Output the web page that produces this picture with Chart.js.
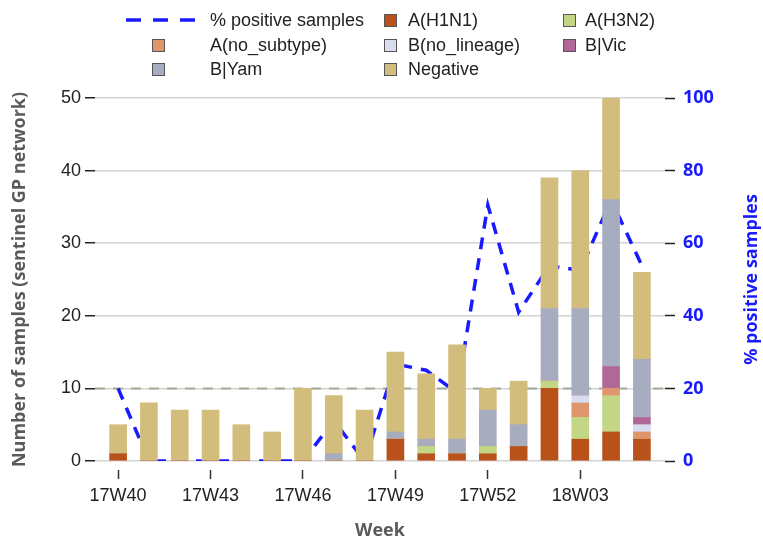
<!DOCTYPE html>
<html>
<head>
<meta charset="utf-8">
<script src="https://cdn.jsdelivr.net/npm/chart.js@4/dist/chart.umd.min.js"></script>
<style>
    html, body { margin: 0; padding: 0; background: #fff; }
    #wrap { position: relative; width: 763px; height: 541px; }
    #legend {
        position: absolute; left: 0; top: 0; width: 763px; height: 90px;
        font-family: "Liberation Sans", Arial, sans-serif; font-size: 18px; color: #222;
    }
    .lg-text { position: absolute; white-space: nowrap; line-height: 20px; }
    .lg-box { position: absolute; width: 11px; height: 11px; border: 1px solid #555; }
    .lg-line { position: absolute; }
</style>
</head>
<body>
<div id="wrap">
    <canvas id="chart" width="763" height="541"></canvas>
    <div id="legend"></div>
</div>
<script>
// ---- datos ----
const weeks = ['17W40', '17W41', '17W42', '17W43', '17W44', '17W45', '17W46', '17W47', '17W48',
               '17W49', '17W50', '17W51', '17W52', '18W01', '18W02', '18W03', '18W04', '18W05'];
const labeledWeeks = ['17W40', '17W43', '17W46', '17W49', '17W52', '18W03'];

const h1n1      = [1, 0, 0, 0, 0, 0, 0, 0, 0, 3, 1, 1, 1, 2, 10, 3, 4, 3];
const h3n2      = [0, 0, 0, 0, 0, 0, 0, 0, 0, 0, 1, 0, 1, 0, 1, 3, 5, 0];
const aNoSub    = [0, 0, 0, 0, 0, 0, 0, 0, 0, 0, 0, 0, 0, 0, 0, 2, 1, 1];
const bNoLin    = [0, 0, 0, 0, 0, 0, 0, 0, 0, 0, 0, 0, 0, 0, 0, 1, 0, 1];
const bVic      = [0, 0, 0, 0, 0, 0, 0, 0, 0, 0, 0, 0, 0, 0, 0, 0, 3, 1];
const bYam      = [0, 0, 0, 0, 0, 0, 0, 1, 0, 1, 1, 2, 5, 3, 10, 12, 23, 8];
const negative  = [4, 8, 7, 7, 5, 4, 10, 8, 7, 11, 9, 13, 3, 6, 18, 19, 14, 12];
const pctPositive = [20, 0, 0, 0, 0, 0, 0, 11.1, 0, 26.7, 25, 18.8, 70.5, 41, 53.8, 52.5, 72, 53.8];

const samplesTicks = [0, 10, 20, 30, 40, 50];
const pctTicks = [0, 20, 40, 60, 80, 100];
const thresholdLevel = 10;

(function() {
    'use strict';

    const BLUE = '#1a1aff';
    const xMin = -0.75, xMax = weeks.length - 0.25;

    const toPoints = arr => arr.map((v, i) => ({ x: i, y: v }));

    const barSet = (label, data, color) => ({
        type: 'bar',
        label: label,
        data: toPoints(data),
        backgroundColor: color,
        borderWidth: 0,
        barThickness: 17,
        yAxisID: 'y',
        order: 0
    });

    const datasets = [
        barSet('A(H1N1)', h1n1, '#b8521a'),
        barSet('A(H3N2)', h3n2, '#c2d685'),
        barSet('A(no_subtype)', aNoSub, '#e0966c'),
        barSet('B(no_lineage)', bNoLin, '#d8dcef'),
        barSet('B|Vic', bVic, '#b06896'),
        barSet('B|Yam', bYam, '#a7adbf'),
        barSet('Negative', negative, '#d2bd7c'),
        {
            type: 'line',
            label: '% positive samples',
            data: toPoints(pctPositive),
            yAxisID: 'y2',
            borderColor: BLUE,
            borderWidth: 3.5,
            borderDash: [12, 9],
            pointRadius: 0,
            tension: 0,
            fill: false,
            order: 1
        },
        {
            type: 'line',
            label: 'threshold',
            data: [{ x: xMin, y: thresholdLevel }, { x: xMax, y: thresholdLevel }],
            yAxisID: 'y',
            borderColor: '#9fae97',
            borderWidth: 2,
            borderDash: [10, 8],
            pointRadius: 0,
            fill: false,
            order: 2
        }
    ];

    // título del eje derecho (se lee de abajo hacia arriba)
    const rightTitle = {
        id: 'rightTitle',
        afterDraw(chart) {
            const { ctx, chartArea } = chart;
            ctx.save();
            ctx.translate(chart.scales.y2.right - 11, (chartArea.top + chartArea.bottom) / 2);
            ctx.rotate(-Math.PI / 2);
            ctx.font = 'bold 18px "Open Sans"';
            ctx.fillStyle = BLUE;
            ctx.textAlign = 'center';
            ctx.textBaseline = 'middle';
            ctx.fillText('% positive samples', 0, 0);
            ctx.restore();
        }
    };

    const tickFont = { family: '"Liberation Sans", Arial, sans-serif', size: 18 };

    const chart = new Chart(document.getElementById('chart').getContext('2d'), {
        data: { datasets: datasets },
        plugins: [rightTitle],
        options: {
            responsive: false,
            animation: false,
            devicePixelRatio: 1,
            layout: { padding: { top: 98, left: 0, right: 0, bottom: 0 } },
            plugins: { legend: { display: false }, tooltip: { enabled: false } },
            scales: {
                x: {
                    type: 'linear',
                    min: xMin,
                    max: xMax,
                    offset: false,
                    stacked: true,
                    afterBuildTicks: s => { s.ticks = labeledWeeks.map(w => ({ value: weeks.indexOf(w) })); },
                    afterFit: s => { s.height = 80; },
                    border: { display: false },
                    grid: {
                        offset: false,
                        drawOnChartArea: false,
                        tickLength: 18,
                        tickColor: '#333',
                        tickWidth: 1.5,
                        tickBorderDash: [0, 9, 9, 100]
                    },
                    ticks: {
                        padding: 6,
                        maxRotation: 0,
                        autoSkip: false,
                        color: '#222',
                        font: tickFont,
                        callback: v => weeks[v]
                    },
                    title: {
                        display: true,
                        text: 'Week',
                        color: '#5a5a5a',
                        font: { family: '"Open Sans"', size: 18, weight: 'bold', lineHeight: 1 },
                        padding: { top: 0, bottom: 1 }
                    }
                },
                y: {
                    position: 'left',
                    min: 0,
                    max: 50,
                    stacked: true,
                    afterBuildTicks: s => { s.ticks = samplesTicks.map(v => ({ value: v })); },
                    afterFit: s => { s.width = 95; },
                    border: { display: false },
                    grid: { color: '#d4d4d4', lineWidth: 1.5, tickLength: 10, tickColor: '#222', tickWidth: 1.5 },
                    ticks: { padding: 4, color: '#222', font: tickFont },
                    title: {
                        display: true,
                        text: 'Number of samples (sentinel GP network)',
                        color: '#5a5a5a',
                        font: { family: '"Open Sans"', size: 18, weight: 'bold', lineHeight: 1.2 },
                        padding: { top: 9, bottom: 0 }
                    }
                },
                y2: {
                    position: 'right',
                    min: 0,
                    max: 100,
                    afterBuildTicks: s => { s.ticks = pctTicks.map(v => ({ value: v })); },
                    afterFit: s => { s.width = 98; },
                    border: { display: false },
                    grid: { drawOnChartArea: false, tickLength: 10, tickColor: '#222', tickWidth: 1.5 },
                    ticks: { padding: 8, color: BLUE, font: { family: '"Open Sans"', size: 18, weight: 'bold' } }
                }
            }
        }
    });

    // leyenda en HTML, 3 columnas como el original
    function buildLegend() {
        const el = document.getElementById('legend');
        const ds = chart.data.datasets;
        const items = [ds.find(d => d.label === '% positive samples')].concat(ds.filter(d => d.type === 'bar'));
        const boxX = [152, 384, 563];
        const textX = [210, 408, 585];
        const rowY = [20, 45, 69];

        items.forEach((d, k) => {
            const r = Math.floor(k / 3), c = k % 3;
            if (d.type === 'line') {
                const svg = document.createElementNS('http://www.w3.org/2000/svg', 'svg');
                svg.setAttribute('class', 'lg-line');
                svg.setAttribute('width', '70');
                svg.setAttribute('height', '6');
                svg.style.left = '126px';
                svg.style.top = (rowY[r] - 3) + 'px';
                svg.innerHTML = '<line x1="0" y1="3" x2="70" y2="3" stroke="' + d.borderColor +
                    '" stroke-width="3.5" stroke-dasharray="15 12"/>';
                el.appendChild(svg);
            } else {
                const box = document.createElement('div');
                box.className = 'lg-box';
                box.style.background = d.backgroundColor;
                box.style.left = boxX[c] + 'px';
                box.style.top = (rowY[r] - 6) + 'px';
                el.appendChild(box);
            }
            const t = document.createElement('div');
            t.className = 'lg-text';
            t.textContent = d.label;
            t.style.left = textX[c] + 'px';
            t.style.top = (rowY[r] - 10) + 'px';
            el.appendChild(t);
        });
    }

    buildLegend();
})();
</script>
</body>
</html>
